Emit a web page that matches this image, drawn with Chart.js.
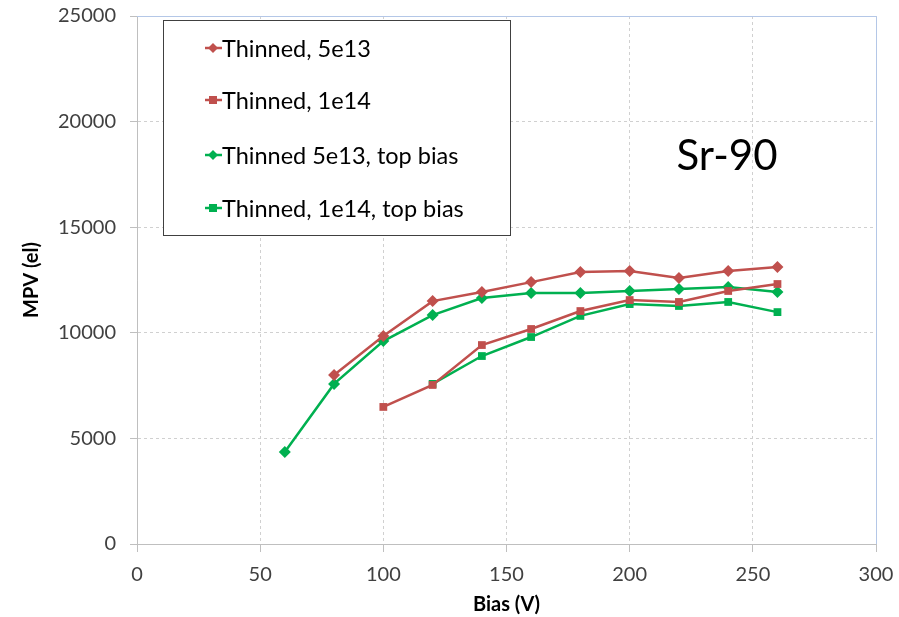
<!DOCTYPE html>
<html>
<head>
<meta charset="utf-8">
<style>
  html, body { margin: 0; padding: 0; background: #fff; }
  #wrap { width: 899px; height: 617px; }
</style>
<script src="https://cdn.jsdelivr.net/npm/chart.js@4/dist/chart.umd.min.js"></script>
</head>
<body>
<div id="wrap"><canvas id="mpvChart" width="899" height="617"></canvas></div>
<script>
// Bias voltage (V) and MPV (electrons) for each sensor
const biasThin5e13 = [80, 100, 120, 140, 160, 180, 200, 220, 240, 260];
const mpvThin5e13 = [8000, 9850, 11500, 11930, 12400, 12880, 12930, 12600, 12930, 13120];

const biasThin1e14 = [100, 120, 140, 160, 180, 200, 220, 240, 260];
const mpvThin1e14 = [6490, 7530, 9420, 10180, 11030, 11550, 11460, 11980, 12310];

const biasTop5e13 = [60, 80, 100, 120, 140, 160, 180, 200, 220, 240, 260];
const mpvTop5e13 = [4360, 7580, 9610, 10840, 11650, 11880, 11880, 11980, 12070, 12170, 11930];

const biasTop1e14 = [120, 140, 160, 180, 200, 220, 240, 260];
const mpvTop1e14 = [7580, 8900, 9800, 10800, 11360, 11270, 11460, 10980];

const seriesLabels = ['Thinned, 5e13', 'Thinned, 1e14', 'Thinned 5e13, top bias', 'Thinned, 1e14, top bias'];
const xTicks = [0, 50, 100, 150, 200, 250, 300];
const yTicks = [0, 5000, 10000, 15000, 20000, 25000];

const RED = '#C0504D';
const GREEN = '#00B050';
const FONT = 'Lato, "Open Sans", sans-serif';

function pairs(xs, ys) {
    return xs.map((x, i) => ({ x: x, y: ys[i] }));
}

function makeSet(label, xs, ys, color, shape) {
    return {
        label: label,
        data: pairs(xs, ys),
        borderColor: color,
        backgroundColor: color,
        borderWidth: 2.5,
        pointStyle: shape,
        pointRadius: shape === 'rect' ? 5.5 : 6,
        pointBorderWidth: 0,
        pointHoverRadius: 6,
        tension: 0
    };
}

// Legend box inside the plot, plus the "Sr-90" note and the top/right frame
const overlayPlugin = {
    id: 'overlay',
    afterDraw(chart) {
        const ctx = chart.ctx;
        const area = chart.chartArea;
        ctx.save();

        // light frame on top and right of the plot area
        ctx.strokeStyle = '#B4C7E7';
        ctx.lineWidth = 1;
        ctx.beginPath();
        ctx.moveTo(area.left, area.top + 0.5);
        ctx.lineTo(area.right + 0.5, area.top + 0.5);
        ctx.lineTo(area.right + 0.5, area.bottom);
        ctx.stroke();

        // legend box
        const box = { x: 163.5, y: 20.5, w: 347, h: 215 };
        ctx.fillStyle = '#fff';
        ctx.fillRect(box.x, box.y, box.w, box.h);
        ctx.strokeStyle = '#404040';
        ctx.lineWidth = 1;
        ctx.strokeRect(box.x, box.y, box.w, box.h);

        const rowY = [48, 100, 155, 208];
        ctx.font = '23.5px ' + FONT;
        ctx.textBaseline = 'middle';
        ctx.textAlign = 'left';
        chart.data.datasets.forEach((ds, i) => {
            const y = rowY[i];
            ctx.strokeStyle = ds.borderColor;
            ctx.lineWidth = 2.5;
            ctx.beginPath();
            ctx.moveTo(205, y);
            ctx.lineTo(222, y);
            ctx.stroke();
            ctx.fillStyle = ds.borderColor;
            ctx.beginPath();
            if (ds.pointStyle === 'rect') {
                ctx.rect(209, y - 4, 8, 8);
            } else {
                ctx.moveTo(213, y - 5);
                ctx.lineTo(218, y);
                ctx.lineTo(213, y + 5);
                ctx.lineTo(208, y);
                ctx.closePath();
            }
            ctx.fill();
            ctx.fillStyle = '#000';
            ctx.fillText(ds.label, 222, y + 1);
        });

        // source label
        ctx.font = '42px ' + FONT;
        ctx.textAlign = 'center';
        ctx.fillStyle = '#000';
        ctx.fillText('Sr-90', 727, 156);

        ctx.restore();
    }
};

const datasets = [
    makeSet(seriesLabels[0], biasThin5e13, mpvThin5e13, RED, 'rectRot'),
    makeSet(seriesLabels[1], biasThin1e14, mpvThin1e14, RED, 'rect'),
    makeSet(seriesLabels[2], biasTop5e13, mpvTop5e13, GREEN, 'rectRot'),
    makeSet(seriesLabels[3], biasTop1e14, mpvTop1e14, GREEN, 'rect')
];

const plainNumber = (v) => String(v);

new Chart(document.getElementById('mpvChart').getContext('2d'), {
    type: 'line',
    data: { datasets: datasets },
    options: {
        responsive: false,
        animation: false,
        devicePixelRatio: 1,
        layout: { padding: { top: 16, right: 23, left: 0, bottom: 0 } },
        plugins: {
            legend: { display: false },
            tooltip: { enabled: false }
        },
        scales: {
            x: {
                type: 'linear',
                min: 0,
                max: 300,
                afterBuildTicks: (s) => { s.ticks = xTicks.map(v => ({ value: v })); },
                afterFit: (s) => {
                    s.height = 73;
                    s.paddingLeft = 0;
                    s.paddingRight = 0;
                },
                grid: {
                    color: '#D0D0D0',
                    tickLength: 8,
                    tickColor: '#BFBFBF',
                    tickBorderDash: []
                },
                border: { color: '#BFBFBF', width: 1, dash: [3, 3] },
                ticks: {
                    color: '#404040',
                    font: { family: FONT, size: 20 },
                    padding: 11,
                    maxRotation: 0,
                    callback: plainNumber
                },
                title: {
                    display: true,
                    text: 'Bias (V)',
                    color: '#000',
                    font: { family: FONT, size: 20, weight: 'bold' },
                    padding: { top: 0, bottom: 0 }
                }
            },
            y: {
                type: 'linear',
                min: 0,
                max: 25000,
                afterBuildTicks: (s) => { s.ticks = yTicks.map(v => ({ value: v })); },
                afterFit: (s) => {
                    s.width = 137;
                    s.paddingTop = 0;
                    s.paddingBottom = 0;
                },
                grid: {
                    color: '#D0D0D0',
                    tickLength: 7,
                    tickColor: '#BFBFBF',
                    tickBorderDash: []
                },
                border: { color: '#BFBFBF', width: 1, dash: [3, 3] },
                ticks: {
                    color: '#404040',
                    font: { family: FONT, size: 20 },
                    padding: 14,
                    callback: plainNumber
                },
                title: {
                    display: true,
                    text: 'MPV (el)',
                    color: '#000',
                    font: { family: FONT, size: 20, weight: 'bold' },
                    padding: { top: 20, bottom: 0 }
                }
            }
        }
    },
    plugins: [overlayPlugin]
});
</script>
</body>
</html>
